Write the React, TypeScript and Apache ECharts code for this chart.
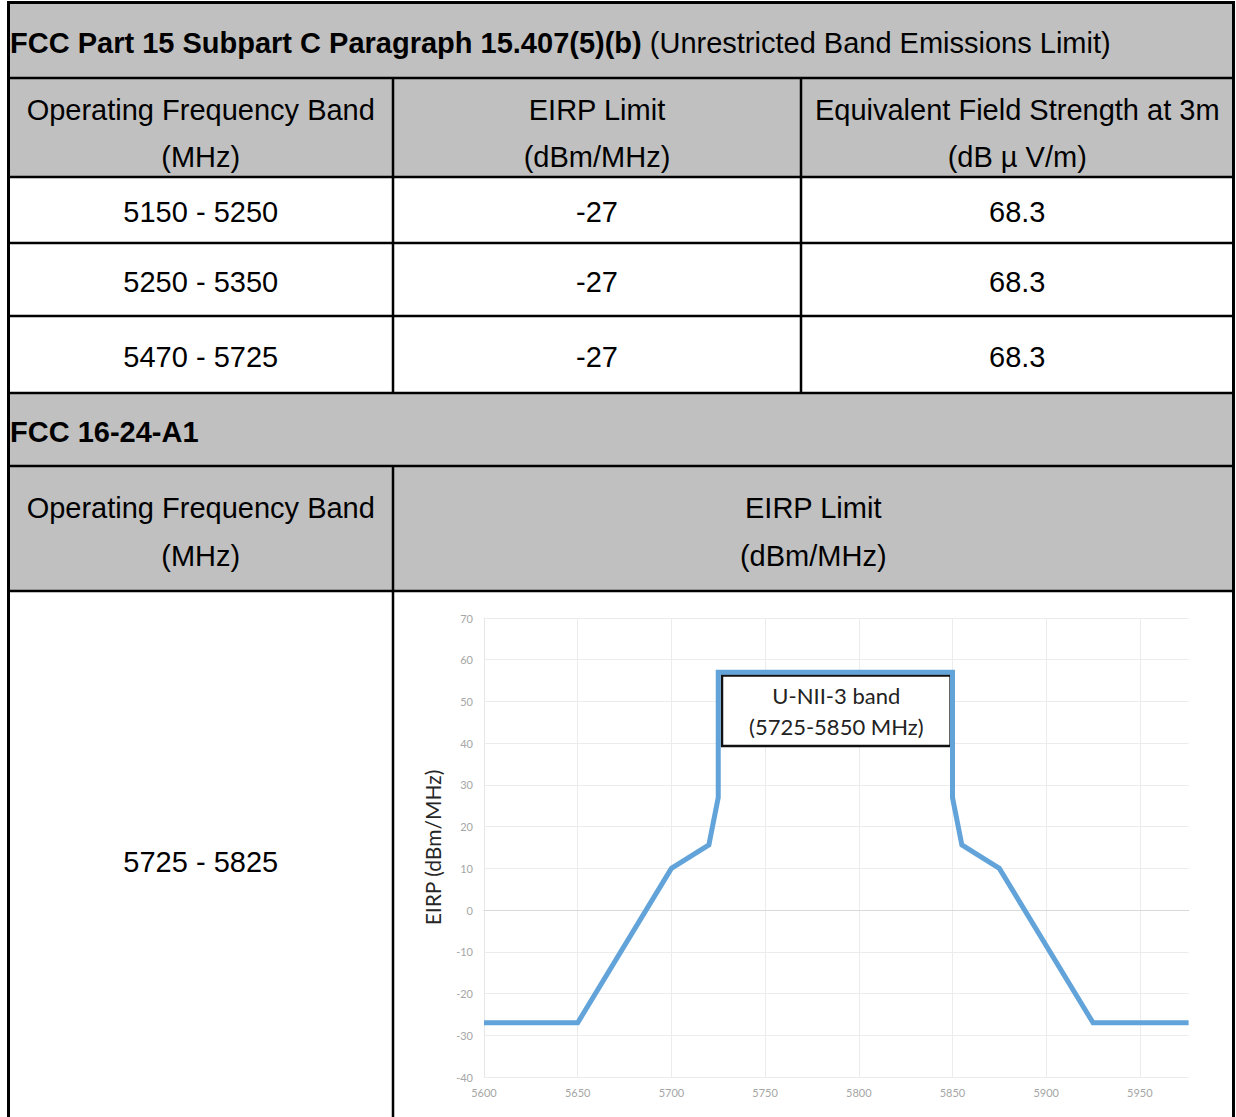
import React, { useEffect, useRef } from "react";
import * as echarts from "echarts";

// ---- table content ----
const sectionTitles = ["FCC Part 15 Subpart C Paragraph 15.407(5)(b)", "FCC 16-24-A1"];
const sectionNote = " (Unrestricted Band Emissions Limit)";
const headerTop = [
  "Operating Frequency Band\n(MHz)",
  "EIRP Limit\n(dBm/MHz)",
  "Equivalent Field Strength at 3m\n(dB µ V/m)",
];
const bands = ["5150 - 5250", "5250 - 5350", "5470 - 5725"];
const eirpLimits = ["-27", "-27", "-27"];
const fieldStrengths = ["68.3", "68.3", "68.3"];
const headerBottom = ["Operating Frequency Band\n(MHz)", "EIRP Limit\n(dBm/MHz)"];
const bandBottom = "5725 - 5825";

// ---- chart data (FCC 16-24-A1 emission mask) ----
const maskFreq = [5600, 5650, 5700, 5720, 5725, 5725, 5850, 5850, 5855, 5875, 5925, 5976];
const maskEirp = [-27, -27, 10, 15.6, 27, 57, 57, 27, 15.6, 10, -27, -27];
const bandLabel = ["U-NII-3 band", "(5725-5850 MHz)"];
const bandBox = { x0: 5727, x1: 5849, y0: 56.2, y1: 39.3 };
const yAxisTitle = "EIRP (dBm/MHz)";

const W = 1236;
const H = 1117;
const L = 8.5;
const R = 1233.5;
const C1 = 393;
const C2 = 801;
const ROWS = [2.5, 78, 177, 243, 316, 393, 466, 591];
const GREY = "#c0c0c0";
const FONT = "'Liberation Sans', Arial, sans-serif";
const CFONT = "Lato, 'Open Sans', sans-serif";

function txt(text: string, x: number, y: number, extra: any = {}) {
  return {
    type: "text",
    z: 10,
    style: {
      text,
      x,
      y,
      fill: "#000",
      fontSize: 29,
      fontFamily: FONT,
      align: "center",
      verticalAlign: "middle",
      textAlign: "center",
      textVerticalAlign: "middle",
      lineHeight: 47,
      ...extra,
    },
  };
}

function hline(y: number, x1: number, x2: number, w = 2.5) {
  return { type: "line", z: 9, shape: { x1, y1: y, x2, y2: y }, style: { stroke: "#000", lineWidth: w } };
}
function vline(x: number, y1: number, y2: number, w = 2.5) {
  return { type: "line", z: 9, shape: { x1: x, y1, x2: x, y2 }, style: { stroke: "#000", lineWidth: w } };
}
function grey(y1: number, y2: number) {
  return { type: "rect", z: 1, shape: { x: L, y: y1, width: R - L, height: y2 - y1 }, style: { fill: GREY } };
}

export default function App() {
  const ref = useRef<HTMLDivElement>(null);
  useEffect(() => {
    document.body.style.margin = "0";
    const chart = echarts.init(ref.current!, null, { renderer: "svg" });

    const graphics: any[] = [
      grey(ROWS[0], ROWS[2]),
      grey(ROWS[5], ROWS[7]),
    ];
    // horizontal borders
    ROWS.forEach((y, i) => graphics.push(hline(y, L - 1.5, R + 1.5, i === 0 ? 3 : 2.5)));
    // outer verticals
    graphics.push(vline(L, ROWS[0], H, 3));
    graphics.push(vline(R, ROWS[0], H, 3));
    // inner verticals
    graphics.push(vline(C1, ROWS[1], ROWS[5]));
    graphics.push(vline(C2, ROWS[1], ROWS[5]));
    graphics.push(vline(C1, ROWS[6], H));

    // section 1 title
    graphics.push({
      type: "text",
      z: 10,
      style: {
        text: `{b|${sectionTitles[0]}}{n|${sectionNote}}`,
        x: 10,
        y: (ROWS[0] + ROWS[1]) / 2 + 3,
        align: "left",
        verticalAlign: "middle",
        textAlign: "left",
        textVerticalAlign: "middle",
        fill: "#000",
        fontSize: 29,
        fontFamily: FONT,
        rich: {
          b: { fontSize: 29, fontFamily: FONT, fontWeight: "bold", fill: "#000", color: "#000" },
          n: { fontSize: 29, fontFamily: FONT, fill: "#000", color: "#000" },
        },
      },
    });
    // header row
    const colCenters = [(L + C1) / 2, (C1 + C2) / 2, (C2 + R) / 2];
    headerTop.forEach((h, i) => graphics.push(txt(h, colCenters[i], 133.5)));
    // data rows
    bands.forEach((b, i) => {
      const yc = (ROWS[2 + i] + ROWS[3 + i]) / 2 + 2;
      graphics.push(txt(b, colCenters[0], yc));
      graphics.push(txt(eirpLimits[i], colCenters[1], yc));
      graphics.push(txt(fieldStrengths[i], colCenters[2], yc));
    });
    // section 2 title
    graphics.push(
      txt(sectionTitles[1], 10, (ROWS[5] + ROWS[6]) / 2 + 2, {
        fontWeight: "bold",
        align: "left",
        textAlign: "left",
      })
    );
    graphics.push(txt(headerBottom[0], colCenters[0], 532, { lineHeight: 48 }));
    graphics.push(txt(headerBottom[1], (C1 + R) / 2, 532, { lineHeight: 48 }));
    graphics.push(txt(bandBottom, colCenters[0], 862));

    const option: any = {
      animation: false,
      backgroundColor: "#fff",
      graphic: { elements: graphics },
      grid: { left: 484, top: 618, width: 704.6, height: 459, containLabel: false },
      xAxis: {
        type: "value",
        min: 5600,
        max: 5976,
        interval: 50,
        axisLine: { show: true, lineStyle: { color: "#d9d9d9", width: 1 } },
        axisTick: { show: false },
        axisLabel: {
          show: true,
          showMaxLabel: false,
          color: "#a6a6a6",
          fontSize: 11,
          fontFamily: CFONT,
          margin: 10,
          formatter: (v: number) => String(v),
        },
        splitLine: { show: true, showMaxLine: false, lineStyle: { color: "#ececec", width: 1 } },
      },
      yAxis: {
        type: "value",
        min: -40,
        max: 70,
        interval: 10,
        name: yAxisTitle,
        nameLocation: "middle",
        nameGap: 41,
        nameTextStyle: { fontSize: 21, fontFamily: CFONT, color: "#262626" },
        axisLine: { show: true, lineStyle: { color: "#e6e6e6", width: 1 } },
        axisTick: { show: false },
        axisLabel: { color: "#a6a6a6", fontSize: 11, fontFamily: CFONT, margin: 11 },
        splitLine: { show: true, lineStyle: { color: "#ececec", width: 1 } },
      },
      series: [
        {
          type: "line",
          data: maskFreq.map((f, i) => [f, maskEirp[i]]),
          showSymbol: false,
          symbol: "none",
          lineStyle: { color: "#62a3d9", width: 5, join: "miter" },
          z: 3,
        },
        {
          type: "line",
          data: [],
          z: 5,
          markArea: {
            silent: true,
            itemStyle: { color: "#fff", borderColor: "#111", borderWidth: 2.5, opacity: 1 },
            label: {
              show: true,
              position: "inside",
              formatter: bandLabel.join("\n"),
              fontSize: 22,
              lineHeight: 31,
              color: "#222",
              fontFamily: CFONT,
            },
            data: [[{ coord: [bandBox.x0, bandBox.y0] }, { coord: [bandBox.x1, bandBox.y1] }]],
          },
        },
      ],
    };
    chart.setOption(option);
    return () => chart.dispose();
  }, []);
  return (
    <div
      ref={ref}
      style={{ position: "absolute", left: 0, top: 0, width: W, height: H, background: "#fff" }}
    />
  );
}
